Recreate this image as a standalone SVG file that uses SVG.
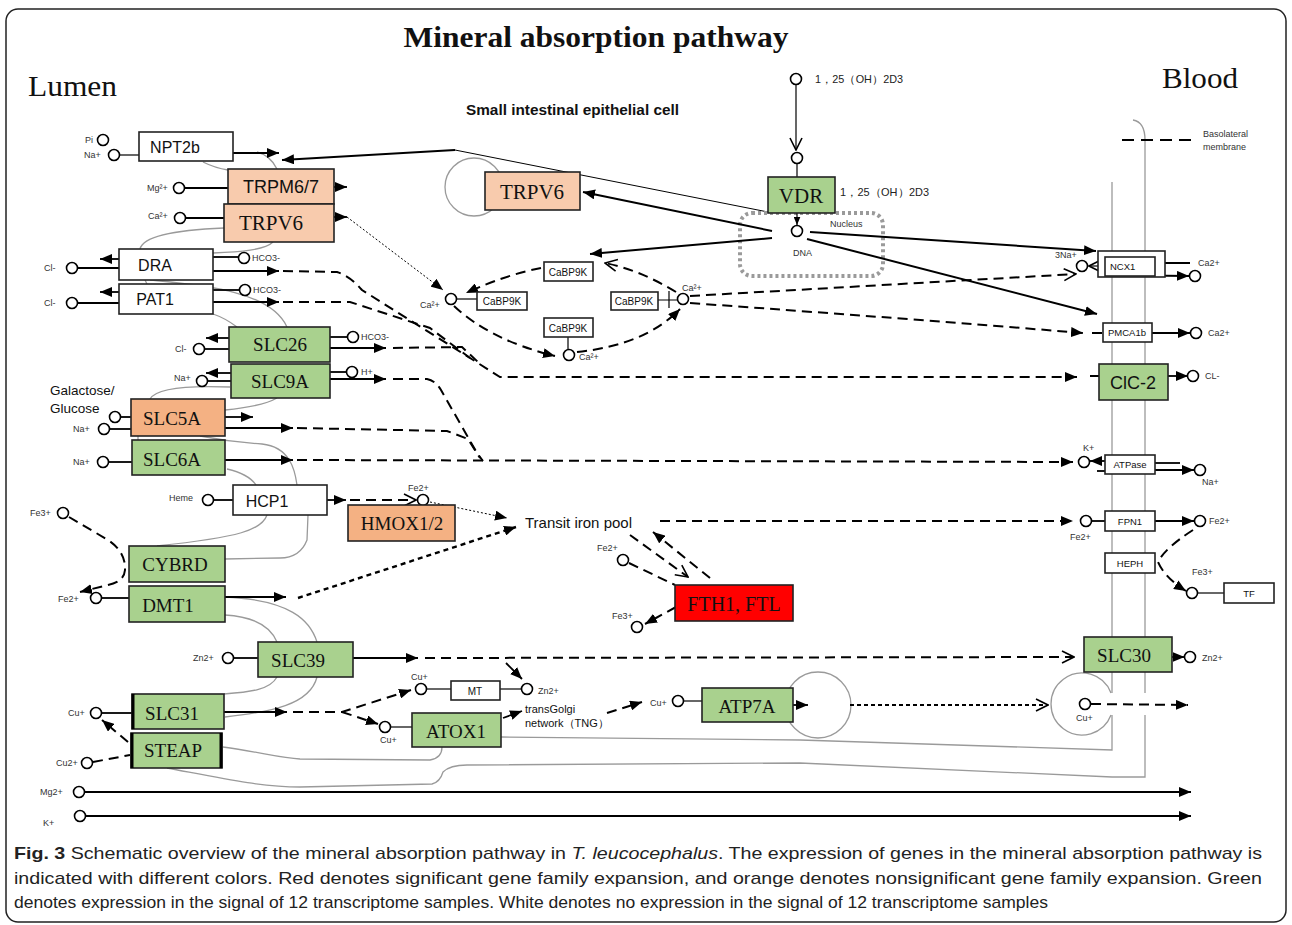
<svg xmlns="http://www.w3.org/2000/svg" width="1292" height="925" viewBox="0 0 1292 925">
<style>
.bx{stroke:#222;stroke-width:1.6}
.w{fill:#fff}.g{fill:#a9d18e}.o{fill:#f8cbad}.o2{fill:#f4b183}.r{fill:#ff0000}
.sn{font-family:"Liberation Sans",Arial,sans-serif;fill:#111}
.sr{font-family:"Liberation Serif","Times New Roman",serif;fill:#111}
.ln{stroke:#000;stroke-width:1.8;fill:none}
.tn{stroke:#000;stroke-width:1.2;fill:none}
.da{stroke:#000;stroke-width:2;fill:none;stroke-dasharray:10 6}
.ds{stroke:#000;stroke-width:2.4;fill:none;stroke-dasharray:5 4}
.dt{stroke:#000;stroke-width:1;fill:none;stroke-dasharray:2 2}
.gr{stroke:#9a9a9a;stroke-width:1.3;fill:none}
.c{fill:#fff;stroke:#000;stroke-width:1.6}
.lb{font-family:"Liberation Sans",Arial,sans-serif;font-size:9px;fill:#333}
.ml{font-family:"Liberation Sans",Arial,sans-serif;font-size:10.5px;fill:#222}
.bn{font-size:16px;text-anchor:middle}
.bs{font-size:19px;text-anchor:middle}
.sm{font-size:10px;text-anchor:middle}
</style>
<defs>
<marker id="af" viewBox="0 0 12 10" refX="12" refY="5" markerWidth="12" markerHeight="10" orient="auto" markerUnits="userSpaceOnUse"><path d="M0,0 L12,5 L0,10 z" fill="#000"/></marker>
<marker id="as" viewBox="0 0 12 10" refX="12" refY="5" markerWidth="8" markerHeight="7" orient="auto" markerUnits="userSpaceOnUse"><path d="M0,0 L12,5 L0,10 z" fill="#000"/></marker>
<marker id="ao" viewBox="0 0 14 14" refX="13" refY="7" markerWidth="14" markerHeight="14" orient="auto" markerUnits="userSpaceOnUse"><path d="M1,1 L13,7 L1,13" fill="none" stroke="#000" stroke-width="1.6"/></marker>
</defs>

<rect x="6" y="9" width="1280" height="913" rx="12" fill="#fff" stroke="#222" stroke-width="1.5"/>

<text x="596" y="47" text-anchor="middle" font-family="Liberation Serif,serif" font-weight="bold" font-size="29" textLength="385" lengthAdjust="spacingAndGlyphs" fill="#111">Mineral absorption pathway</text>
<text x="28" y="96" font-family="Liberation Serif,serif" font-size="30" textLength="89" lengthAdjust="spacingAndGlyphs" fill="#111">Lumen</text>
<text x="1162" y="88" font-family="Liberation Serif,serif" font-size="30" textLength="76" lengthAdjust="spacingAndGlyphs" fill="#111">Blood</text>
<text x="466" y="115" font-family="Liberation Sans,Arial,sans-serif" font-weight="bold" font-size="14.5" textLength="213" lengthAdjust="spacingAndGlyphs" fill="#111">Small intestinal epithelial cell</text>

<!-- membrane / outline grey lines -->
<g id="membranes">
<path class="gr" d="M203,162 Q215,168 228,170"/>
<path class="gr" d="M257,152 Q270,155 277,169"/>
<path class="gr" d="M224,228 C175,230 143,236 140,249"/>
<path class="gr" d="M273,242 C265,250 240,252 213,253"/>
<path class="gr" d="M145,280 L147,284"/>
<path class="gr" d="M150,280 C200,285 270,290 287,327"/>
<path class="gr" d="M213,314 Q225,318 237,327"/>
<path class="gr" d="M230,387 C180,385 155,390 150,399"/>
<path class="gr" d="M277,398 C265,405 245,408 225,410"/>
<path class="gr" d="M200,436 C220,440 245,443 262,444 C290,447 295,470 297,485"/>
<path class="gr" d="M138,436 L138,440"/>
<path class="gr" d="M227,469 C240,472 250,476 256,485"/>
<path class="gr" d="M267,515 C262,530 240,537 157,546"/>
<path class="gr" d="M308,515 L307,540 Q300,558 280,558 L225,559"/>
<path class="gr" d="M225,597 C290,600 310,620 317,642"/>
<path class="gr" d="M225,615 C260,617 272,630 277,642"/>
<path class="gr" d="M277,677 C270,690 250,692 224,694"/>
<path class="gr" d="M317,677 C310,705 270,712 225,717"/>
<path class="gr" d="M223,747 C260,752 280,758 300,759 L430,760 Q442,758 442,747"/>
<path class="gr" d="M167,768 C220,778 260,787 300,787 L432,784 Q440,782 443,772 Q450,765 467,765 L800,763 L1112,777 L1145,777 L1145,715"/>
<path class="gr" d="M501,737 L800,740 L1112,750 L1112,715"/>
<path class="gr" d="M1112,182 L1112,693"/>
<path class="gr" d="M1133,120 Q1145,122 1145,140 L1145,693"/>
<path class="gr" d="M1111,693 A31,31 0 1,0 1111,715"/>
<circle class="gr" cx="818" cy="705" r="33"/>
<circle class="gr" cx="474" cy="187" r="29"/>
<path d="M455,150 L773,213" stroke="#000" stroke-width="1" fill="none"/>
<rect x="740" y="213" width="143" height="63" rx="12" fill="none" stroke="#9a9a9a" stroke-width="4" stroke-dasharray="3 3"/>
</g>

<!-- legend -->
<g id="legend">
<path d="M1122,140 L1193,140" stroke="#000" stroke-width="1.8" stroke-dasharray="12 7" fill="none"/>
<text x="1203" y="137" class="lb" font-size="8.5">Basolateral</text>
<text x="1203" y="150" class="lb" font-size="8.5">membrane</text>
</g>

<!-- connectors -->
<g id="connectors">
<!-- NPT2b -->
<path class="tn" d="M119.5,155 L139,155"/>
<path class="ln" d="M233,153 L279,153" marker-end="url(#af)"/>
<path d="M455,150 L282,160" stroke="#000" stroke-width="2" fill="none" marker-end="url(#af)"/>
<!-- TRPM6/7 -->
<path class="ln" d="M184.5,188 L228,188"/>
<path class="ln" d="M334,187 L347,187" marker-end="url(#af)"/>
<!-- TRPV6 left -->
<path class="ln" d="M185.5,218 L224,218"/>
<path class="ln" d="M334,217 L347,217" marker-end="url(#af)"/>
<path class="dt" d="M347,217 L443,290" marker-end="url(#af)"/>
<!-- DRA -->
<path class="ln" d="M119,259 L100,259" marker-end="url(#af)"/>
<path class="ln" d="M77.5,268 L119,268"/>
<path class="ln" d="M213,257 L238.5,257"/>
<path class="ln" d="M213,271 L279,271" marker-end="url(#af)"/>
<!-- PAT1 -->
<path class="ln" d="M119,292 L100,292" marker-end="url(#af)"/>
<path class="ln" d="M77.5,303 L119,303"/>
<path class="ln" d="M213,290 L239.5,290"/>
<path class="ln" d="M213,302 L279,302" marker-end="url(#af)"/>
<!-- SLC26 -->
<path class="ln" d="M229,338 L206,338" marker-end="url(#af)"/>
<path class="ln" d="M204.5,349 L229,349"/>
<path class="ln" d="M330,337 L347.5,337"/>
<path class="ln" d="M330,348 L386,348" marker-end="url(#af)"/>
<!-- SLC9A -->
<path class="ln" d="M231,373 L206,373" marker-end="url(#af)"/>
<path class="ln" d="M207.5,381 L231,381"/>
<path class="ln" d="M330,372 L346.5,372"/>
<path class="ln" d="M330,379 L386,379" marker-end="url(#af)"/>
<!-- SLC5A / SLC6A -->
<path class="ln" d="M120.5,417 L131,417"/>
<path class="ln" d="M109.5,429 L131,429"/>
<path class="ln" d="M225,417 L253,417" marker-end="url(#af)"/>
<path class="ln" d="M225,428 L293,428" marker-end="url(#af)"/>
<path class="ln" d="M108.5,462 L132,462"/>
<path class="ln" d="M225,460 L293,460" marker-end="url(#af)"/>
<!-- long dashed from lumen transporters -->
<path class="da" d="M283,271 L337,272 Q350,276 362,290 L470,358 L500,377 L1077,377" marker-end="url(#af)"/>
<path class="da" d="M283,302 L350,302 L430,328 L470,358"/>
<path class="da" d="M393,348 L462,347 L478,362"/>
<path class="da" d="M1090,376 L1099,376"/>
<path class="da" d="M393,379 L427,379 Q436,381 441,390 L477,453 L483,461"/>
<path class="da" d="M297,428 L447,431 L468,439 L480,458"/>
<path class="da" d="M297,460 L1073,462" marker-end="url(#af)"/>
<!-- HCP1 -->
<path class="ln" d="M213.5,500 L233,500"/>
<path class="ln" d="M327,500 L346,500" marker-end="url(#af)"/>
<path class="da" d="M350,500 L416,500" marker-end="url(#ao)"/>
<path class="dt" d="M430,502 L507,518" marker-end="url(#af)"/>
<!-- Fe3+ / DMT1 -->
<path class="da" d="M69,517 L108,540 Q126,552 125,570 Q124,582 108,585 L80,592" marker-end="url(#af)"/>
<path class="ln" d="M101.5,598 L129,598"/>
<path class="ln" d="M225,597 L286,597" marker-end="url(#af)"/>
<path class="ds" d="M298,598 L516,527" marker-end="url(#af)"/>
<!-- iron pool -->
<path class="da" d="M660,521 L1073,521" marker-end="url(#af)"/>
<path class="da" d="M629,563 L675,585"/>
<path class="da" d="M630,535 L688,577" marker-end="url(#ao)"/>
<path class="da" d="M710,578 L653,532" marker-end="url(#af)"/>
<path class="da" d="M676,607 L645,624" marker-end="url(#af)"/>
<!-- SLC39 -->
<path class="ln" d="M233.5,658 L258,658"/>
<path class="ln" d="M353,658 L418,658" marker-end="url(#af)"/>
<path class="da" d="M425,658 L1074,657" marker-end="url(#ao)"/>
<!-- SLC31 / STEAP -->
<path class="ln" d="M101.5,713 L132,713"/>
<path class="da" d="M128,742 L102,720" marker-end="url(#af)"/>
<path class="da" d="M93,762 L130,755"/>
<path class="ln" d="M224,712 L287,712" marker-end="url(#af)"/>
<path class="da" d="M293,712 L342,712 L411,690" marker-end="url(#af)"/>
<path class="da" d="M342,712 L378,724" marker-end="url(#af)"/>
<!-- MT / ATOX1 -->
<path class="tn" d="M426.5,689 L451,689"/>
<path class="tn" d="M500,689 L521.5,689"/>
<path class="ln" d="M506,663 L522,679" marker-end="url(#af)"/>
<path class="tn" d="M390.5,727 L412,727"/>
<path class="ln" d="M503,718 L522,711" marker-end="url(#af)"/>
<path class="da" d="M607,713 L642,702" marker-end="url(#af)"/>
<path class="tn" d="M683.5,701 L702,701"/>
<path class="ln" d="M793,705 L808,705" marker-end="url(#af)"/>
<path d="M850,705 L1048,705" stroke="#000" stroke-width="2.2" stroke-dasharray="4 3" fill="none" marker-end="url(#ao)"/>
<path class="da" d="M1091,704 L1188,705" marker-end="url(#af)"/>
<!-- Mg / K -->
<path class="ln" d="M84.5,792 L1191,792" marker-end="url(#af)"/>
<path class="ln" d="M85.5,816 L1191,816" marker-end="url(#af)"/>
<!-- VDR -->
<path class="tn" d="M796,85 L796,150" marker-end="url(#ao)"/>
<path class="tn" d="M797,163.5 L797,177"/>
<path class="tn" d="M797,213 L797,225" marker-end="url(#as)"/>
<path d="M772,231 L583,192" stroke="#000" stroke-width="2" fill="none" marker-end="url(#af)"/>
<path d="M772,238 L590,254" stroke="#000" stroke-width="2" fill="none" marker-end="url(#af)"/>
<path d="M810,232 L1096,251" stroke="#000" stroke-width="2" fill="none" marker-end="url(#af)"/>
<path d="M807,239 L1097,314" stroke="#000" stroke-width="2" fill="none" marker-end="url(#af)"/>
<!-- CaBP9K cycle -->
<path class="tn" d="M456.5,299 L477,299"/>
<path class="tn" d="M658,300 L677.5,300 M669,291 L669,308"/>
<path class="tn" d="M568,337 L568,349.5"/>
<path class="da" d="M541,268 Q505,275 466,293" marker-end="url(#af)"/>
<path class="da" d="M454,306 Q490,340 555,356" marker-end="url(#af)"/>
<path class="da" d="M577,352 Q645,345 680,309" marker-end="url(#af)"/>
<path class="da" d="M676,292 Q640,270 605,263" marker-end="url(#ao)"/>
<path class="da" d="M690,296 L1076,274" marker-end="url(#ao)"/>
<path class="da" d="M690,303 Q900,318 1083,333" marker-end="url(#af)"/>
<path class="da" d="M1092,333 L1103,333"/>
<!-- basolateral outputs -->
<path class="tn" d="M1105,266 L1089,266" marker-end="url(#ao)"/>
<path class="ln" d="M1155,263 L1190,263"/>
<path class="ln" d="M1098,275 L1189,276" marker-end="url(#af)"/>
<path class="ln" d="M1152,333 L1190,333" marker-end="url(#af)"/>
<path class="ln" d="M1168,376 L1188,376" marker-end="url(#af)"/>
<path class="ln" d="M1105,461 L1090,461" marker-end="url(#af)"/>
<path class="ln" d="M1097,471 L1105,471"/>
<path class="ln" d="M1155,463 L1180,463"/>
<path class="ln" d="M1155,470 L1194,470" marker-end="url(#af)"/>
<path class="ln" d="M1091.5,521 L1105,521"/>
<path class="ln" d="M1155,521 L1194,521" marker-end="url(#af)"/>
<path class="da" d="M1193,530 Q1165,548 1158,562 Q1165,578 1186,591" marker-end="url(#af)"/>
<path class="tn" d="M1197.5,593 L1224,593"/>
<path class="ln" d="M1172,657 L1184.5,657" marker-end="url(#af)"/>
</g>

<!-- circles (ions) -->
<g id="ions">
<circle class="c" cx="103" cy="140" r="5.5"/><text x="85" y="143" class="lb" font-size="8">Pi</text>
<circle class="c" cx="114" cy="155" r="5.5"/><text x="84" y="158" class="lb" font-size="8">Na+</text>
<circle class="c" cx="179" cy="188" r="5.5"/><text x="147" y="191" class="lb" font-size="8">Mg²+</text>
<circle class="c" cx="180" cy="218" r="5.5"/><text x="148" y="219" class="lb" font-size="8">Ca²+</text>
<circle class="c" cx="72" cy="268" r="5.5"/><text x="44" y="271" class="lb">Cl-</text>
<circle class="c" cx="244" cy="258" r="5.5"/><text x="252" y="261" class="lb">HCO3-</text>
<circle class="c" cx="72" cy="303" r="5.5"/><text x="44" y="306" class="lb">Cl-</text>
<circle class="c" cx="245" cy="290" r="5.5"/><text x="253" y="293" class="lb">HCO3-</text>
<circle class="c" cx="199" cy="349" r="5.5"/><text x="175" y="352" class="lb">Cl-</text>
<circle class="c" cx="353" cy="337" r="5.5"/><text x="361" y="340" class="lb">HCO3-</text>
<circle class="c" cx="202" cy="381" r="5.5"/><text x="174" y="381" class="lb">Na+</text>
<circle class="c" cx="352" cy="372" r="5.5"/><text x="361" y="375" class="lb">H+</text>
<text x="50" y="395" class="sn" font-size="13.5">Galactose/</text>
<text x="50" y="413" class="sn" font-size="13.5">Glucose</text>
<circle class="c" cx="115" cy="417" r="5.5"/>
<circle class="c" cx="104" cy="429" r="5.5"/><text x="73" y="432" class="lb">Na+</text>
<circle class="c" cx="103" cy="462" r="5.5"/><text x="73" y="465" class="lb">Na+</text>
<circle class="c" cx="208" cy="500" r="5.5"/><text x="169" y="501" class="lb">Heme</text>
<circle class="c" cx="423" cy="500" r="5.5"/><text x="408" y="491" class="lb">Fe2+</text>
<circle class="c" cx="63" cy="513" r="5.5"/><text x="30" y="516" class="lb">Fe3+</text>
<circle class="c" cx="96" cy="598" r="5.5"/><text x="58" y="602" class="lb">Fe2+</text>
<circle class="c" cx="228" cy="658" r="5.5"/><text x="193" y="661" class="lb">Zn2+</text>
<circle class="c" cx="96" cy="713" r="5.5"/><text x="68" y="716" class="lb">Cu+</text>
<circle class="c" cx="87" cy="763" r="5.5"/><text x="56" y="766" class="lb">Cu2+</text>
<circle class="c" cx="79" cy="792" r="5.5"/><text x="40" y="795" class="lb">Mg2+</text>
<circle class="c" cx="80" cy="816" r="5.5"/><text x="43" y="826" class="lb">K+</text>
<circle class="c" cx="421" cy="689" r="5.5"/><text x="411" y="680" class="lb">Cu+</text>
<circle class="c" cx="527" cy="689" r="5.5"/><text x="538" y="694" class="lb">Zn2+</text>
<circle class="c" cx="385" cy="727" r="5.5"/><text x="380" y="743" class="lb">Cu+</text>
<circle class="c" cx="678" cy="701" r="5.5"/><text x="650" y="706" class="lb">Cu+</text>
<circle class="c" cx="623" cy="560" r="5.5"/><text x="597" y="551" class="lb">Fe2+</text>
<circle class="c" cx="637" cy="627" r="5.5"/><text x="612" y="619" class="lb">Fe3+</text>
<circle class="c" cx="451" cy="299" r="5.5"/><text x="420" y="308" class="lb" font-size="8">Ca²+</text>
<circle class="c" cx="683" cy="299" r="5.5"/><text x="682" y="291" class="lb" font-size="8">Ca²+</text>
<circle class="c" cx="569" cy="355" r="5.5"/><text x="579" y="360" class="lb" font-size="8">Ca²+</text>
<circle class="c" cx="796" cy="79" r="5.5"/><text x="815" y="83" class="ml" font-size="10" textLength="88" lengthAdjust="spacingAndGlyphs">1，25（OH）2D3</text>
<circle class="c" cx="797" cy="158" r="5.5"/>
<text x="840" y="196" class="ml" font-size="10" textLength="89" lengthAdjust="spacingAndGlyphs">1，25（OH）2D3</text>
<circle class="c" cx="797" cy="231" r="5.5"/>
<text x="830" y="227" class="lb" font-size="10">Nucleus</text>
<text x="793" y="256" class="lb" font-size="10">DNA</text>
<circle class="c" cx="1082" cy="266" r="5.5"/><text x="1055" y="258" class="lb" font-size="8.5">3Na+</text>
<circle class="c" cx="1195" cy="276" r="5.5"/><text x="1198" y="266" class="lb">Ca2+</text>
<circle class="c" cx="1196" cy="333" r="5.5"/><text x="1208" y="336" class="lb">Ca2+</text>
<circle class="c" cx="1193" cy="376" r="5.5"/><text x="1205" y="379" class="lb">CL-</text>
<circle class="c" cx="1084" cy="462" r="5.5"/><text x="1083" y="451" class="lb">K+</text>
<circle class="c" cx="1200" cy="470" r="5.5"/><text x="1202" y="485" class="lb">Na+</text>
<circle class="c" cx="1086" cy="521" r="5.5"/><text x="1070" y="540" class="lb">Fe2+</text>
<circle class="c" cx="1200" cy="521" r="5.5"/><text x="1209" y="524" class="lb">Fe2+</text>
<text x="1192" y="575" class="lb">Fe3+</text>
<circle class="c" cx="1192" cy="593" r="5.5"/>
<circle class="c" cx="1190" cy="657" r="5.5"/><text x="1202" y="661" class="lb">Zn2+</text>
<circle class="c" cx="1085" cy="704" r="5.5"/><text x="1076" y="721" class="lb">Cu+</text>
</g>

<!-- nodes -->
<g id="NPT2b"><rect class="bx w" x="139" y="132" width="94" height="29"/><text x="175" y="153" class="sn bn">NPT2b</text></g>
<g id="TRPM6_7"><rect class="bx o" x="228" y="169" width="106" height="35"/><text x="281" y="193" class="sn" font-size="18" text-anchor="middle">TRPM6/7</text></g>
<g id="TRPV6_apical"><rect class="bx o" x="224" y="204" width="110" height="38"/><text x="271" y="230" class="sr" font-size="21" text-anchor="middle">TRPV6</text></g>
<g id="DRA"><rect class="bx w" x="119" y="249" width="94" height="31"/><text x="155" y="271" class="sn bn">DRA</text></g>
<g id="PAT1"><rect class="bx w" x="119" y="284" width="94" height="30"/><text x="155" y="305" class="sn bn">PAT1</text></g>
<g id="SLC26"><rect class="bx g" x="229" y="327" width="101" height="35"/><text x="280" y="351" class="sr bs">SLC26</text></g>
<g id="SLC9A"><rect class="bx g" x="231" y="364" width="99" height="34"/><text x="280" y="388" class="sr bs">SLC9A</text></g>
<g id="SLC5A"><rect class="bx o2" x="131" y="399" width="94" height="37"/><text x="172" y="425" class="sr bs">SLC5A</text></g>
<g id="SLC6A"><rect class="bx g" x="132" y="440" width="93" height="35"/><text x="172" y="466" class="sr bs">SLC6A</text></g>
<g id="HCP1"><rect class="bx w" x="233" y="485" width="94" height="30"/><text x="267" y="507" class="sn bn">HCP1</text></g>
<g id="HMOX1_2"><rect class="bx o2" x="348" y="505" width="107" height="36"/><text x="402" y="530" class="sr bs">HMOX1/2</text></g>
<g id="CYBRD"><rect class="bx g" x="129" y="546" width="96" height="36"/><text x="175" y="571" class="sr bs">CYBRD</text></g>
<g id="DMT1"><rect class="bx g" x="129" y="586" width="96" height="36"/><text x="168" y="612" class="sr bs">DMT1</text></g>
<g id="SLC39"><rect class="bx g" x="258" y="642" width="95" height="35"/><text x="298" y="667" class="sr bs">SLC39</text></g>
<g id="SLC31"><rect class="bx g" x="132" y="694" width="92" height="35"/><path d="M133,694 L133,729" stroke="#000" stroke-width="3"/><text x="172" y="720" class="sr bs">SLC31</text></g>
<g id="STEAP"><rect class="bx g" x="131" y="733" width="91" height="35"/><path d="M132,733 L132,768 M221,733 L221,768" stroke="#000" stroke-width="3"/><text x="173" y="757" class="sr bs">STEAP</text></g>
<g id="MT"><rect class="bx w" x="451" y="681" width="49" height="19"/><text x="475" y="695" class="sn sm">MT</text></g>
<g id="ATOX1"><rect class="bx g" x="412" y="713" width="89" height="34"/><text x="456" y="738" class="sr bs">ATOX1</text></g>
<g id="TNG"><text x="525" y="713" class="sn" font-size="11">transGolgi</text><text x="525" y="727" class="sn" font-size="11">network（TNG）</text></g>
<g id="ATP7A"><rect class="bx g" x="702" y="688" width="91" height="34"/><text x="747" y="713" class="sr bs">ATP7A</text></g>
<g id="TRPV6_nuclear"><rect class="bx o" x="485" y="172" width="95" height="38"/><text x="532" y="199" class="sr" font-size="21" text-anchor="middle">TRPV6</text></g>
<g id="VDR"><rect class="bx g" x="768" y="177" width="67" height="36"/><text x="801" y="203" class="sr" font-size="21" text-anchor="middle">VDR</text></g>
<g id="CaBP9K_top"><rect class="bx w" x="544" y="262" width="49" height="19"/><text x="568" y="276" class="sn sm">CaBP9K</text></g>
<g id="CaBP9K_left"><rect class="bx w" x="477" y="292" width="50" height="18"/><text x="502" y="305" class="sn sm">CaBP9K</text></g>
<g id="CaBP9K_right"><rect class="bx w" x="611" y="292" width="47" height="18"/><text x="634" y="305" class="sn sm">CaBP9K</text></g>
<g id="CaBP9K_bottom"><rect class="bx w" x="544" y="318" width="49" height="19"/><text x="568" y="332" class="sn sm">CaBP9K</text></g>
<g id="TransitIronPool"><text x="525" y="528" class="sn" font-size="15">Transit iron pool</text></g>
<g id="FTH1_FTL"><rect class="bx r" x="675" y="585" width="118" height="36"/><text x="734" y="611" class="sr" font-size="20" text-anchor="middle">FTH1, FTL</text></g>
<g id="NCX1"><rect class="bx w" x="1098" y="251" width="67" height="26" fill="none"/><rect class="bx w" x="1105" y="257" width="50" height="19"/><text x="1110" y="270" class="sn" font-size="9.5">NCX1</text></g>
<g id="PMCA1b"><rect class="bx w" x="1103" y="323" width="49" height="19"/><text x="1127" y="336" class="sn" font-size="9.5" text-anchor="middle">PMCA1b</text></g>
<g id="ClC-2"><rect class="bx g" x="1099" y="364" width="69" height="36"/><text x="1133" y="389" class="sn" font-size="18" text-anchor="middle">ClC-2</text></g>
<g id="ATPase"><rect class="bx w" x="1105" y="455" width="50" height="19"/><text x="1130" y="468" class="sn" font-size="9.5" text-anchor="middle">ATPase</text></g>
<g id="FPN1"><rect class="bx w" x="1105" y="511" width="50" height="20"/><text x="1130" y="525" class="sn" font-size="9.5" text-anchor="middle">FPN1</text></g>
<g id="HEPH"><rect class="bx w" x="1105" y="553" width="50" height="20"/><text x="1130" y="567" class="sn" font-size="9.5" text-anchor="middle">HEPH</text></g>
<g id="TF"><rect class="bx w" x="1224" y="583" width="50" height="20"/><text x="1249" y="597" class="sn" font-size="9.5" text-anchor="middle">TF</text></g>
<g id="SLC30"><rect class="bx g" x="1084" y="637" width="88" height="35"/><text x="1124" y="662" class="sr bs">SLC30</text></g>

<!-- caption -->
<g id="caption" font-family="Liberation Sans,Arial,sans-serif" font-size="17" fill="#222">
<text x="14" y="859" textLength="1248" lengthAdjust="spacingAndGlyphs"><tspan font-weight="bold">Fig. 3</tspan> Schematic overview of the mineral absorption pathway in <tspan font-style="italic">T. leucocephalus</tspan>. The expression of genes in the mineral absorption pathway is</text>
<text x="14" y="884" textLength="1248" lengthAdjust="spacingAndGlyphs">indicated with different colors. Red denotes significant gene family expansion, and orange denotes nonsignificant gene family expansion. Green</text>
<text x="14" y="908" textLength="1034" lengthAdjust="spacingAndGlyphs">denotes expression in the signal of 12 transcriptome samples. White denotes no expression in the signal of 12 transcriptome samples</text>
</g>
</svg>
